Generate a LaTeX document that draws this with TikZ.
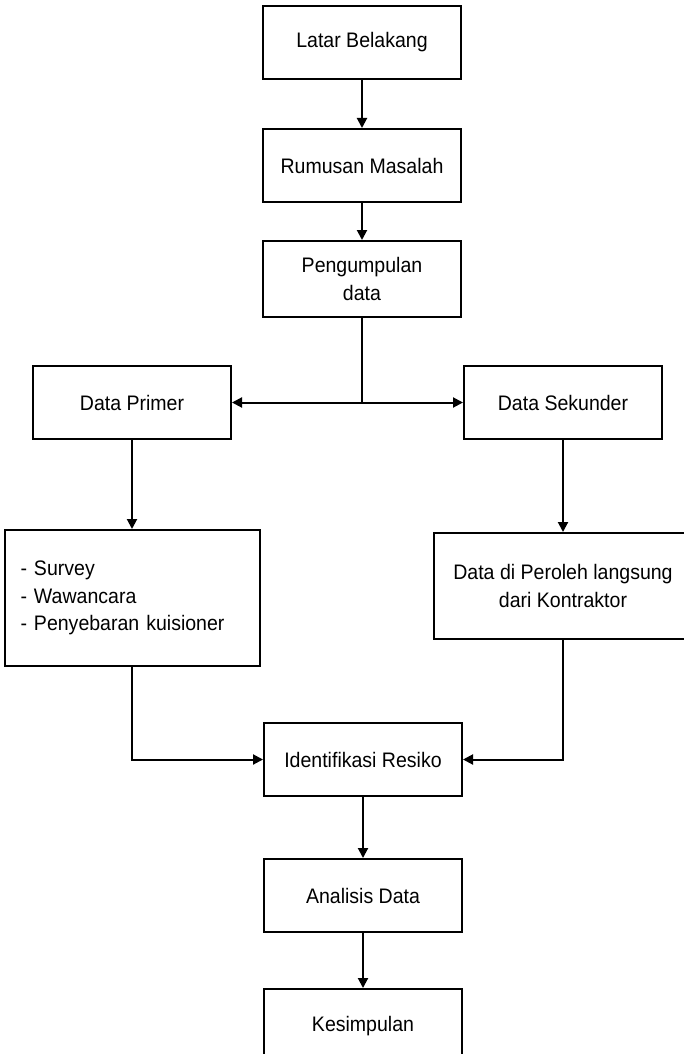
\documentclass[tikz,border=0pt]{standalone}
\usepackage{fontspec}
\setmainfont{Liberation Sans}[FakeStretch=0.93]
\usepackage{tikz}
\usetikzlibrary{arrows.meta, positioning}

\begin{document}
\begin{tikzpicture}[x=1pt, y=-1pt, >={Triangle[length=10pt,width=10pt]}, line width=2pt,
    box/.style={draw, rectangle, minimum width=198pt, minimum height=73pt, align=center,
                font=\fontsize{21}{27.5}\selectfont}]

    \useasboundingbox (0,0) rectangle (683,1054);

    \node[box]                     (lb) at (362,42.5)          {Latar Belakang};
    \node[box]                     (rm) [below=48pt of lb]     {Rumusan Masalah};
    \node[box, minimum height=76pt] (pd) [below=37pt of rm]    {Pengumpulan\\data};

    \node[box] (dp) [below left=47pt and 30pt of pd]  {Data Primer};
    \node[box] (ds) [below right=47pt and 1pt of pd]  {Data Sekunder};

    \node[box, minimum height=136pt, text width=223pt, inner xsep=16pt, align=left]
               (sv) [below=89pt of dp] {- Survey\\- Wawancara\\- Penyebaran kuisioner};
    \node[box, minimum width=258pt, minimum height=106pt]
               (dk) [below=92pt of ds] {Data di Peroleh langsung\\dari Kontraktor};

    \node[box]                      (ir) at (363,759.5)      {Identifikasi Resiko};
    \node[box]                      (ad) [below=61pt of ir]  {Analisis Data};
    \node[box, minimum height=74pt] (ks) [below=55pt of ad]  {Kesimpulan};

    \coordinate (j) at (pd.south |- dp.east);

    \draw[->] (lb) -- (rm);
    \draw[->] (rm) -- (pd);
    \draw (pd) -- (j);
    \draw[->] (j) -- (dp.east);
    \draw[->] (j) -- (j -| ds.west);
    \draw[->] (dp) -- (sv);
    \draw[->] (ds) -- (dk);
    \draw[->] (sv) |- (ir);
    \draw[->] (dk) |- (ir);
    \draw[->] (ir) -- (ad);
    \draw[->] (ad) -- (ks);
\end{tikzpicture}
\end{document}
